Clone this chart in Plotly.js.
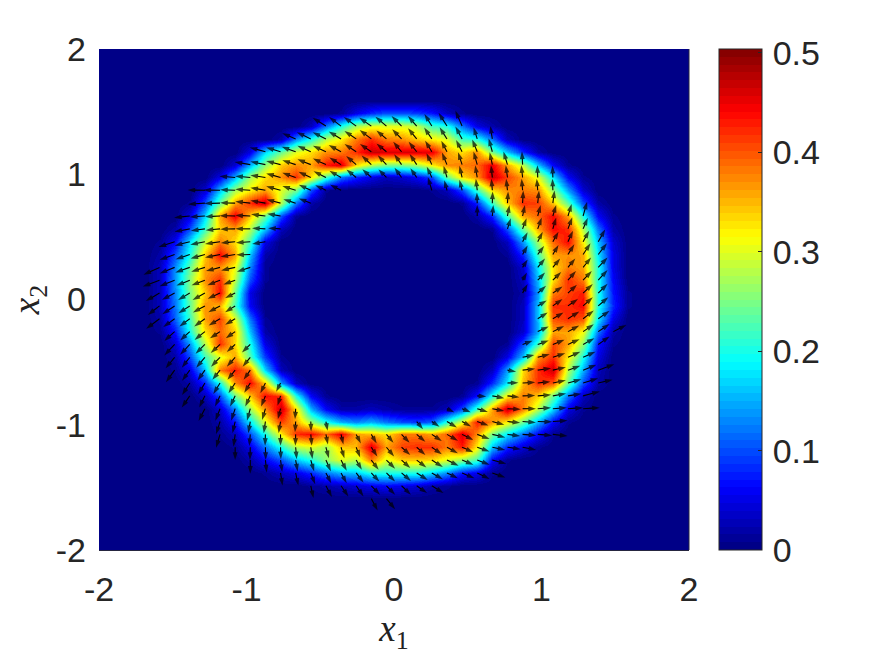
<!DOCTYPE html>
<html><head><meta charset="utf-8">
<script src="https://cdn.plot.ly/plotly-3.0.1.min.js"></script>
<style>html,body{margin:0;padding:0;background:#fff}</style></head>
<body><div id="chart" style="width:875px;height:656px"></div>
<script>
// Grid: 40 points per axis from -2 to 2 (row 0 is the top, x2 = 2).
const gridCount = 40;
const xTickVals = [-2,-1,0,1,2];
const yTickVals = [-2,-1,0,1,2];
const barTickVals = [0,0.1,0.2,0.3,0.4,0.5];
const barTickText = ['\u200a0','\u200a0.1','\u200a0.2','\u200a0.3','\u200a0.4','\u200a0.5'];

// Density (hundredths): row, first column, values.
const heatJ = [5,6,7,8,9,10,11,11,12,12,13,13,14,14,15,15,16,16,17,17,18,18,19,19,20,20,21,21,22,22,23,23,24,24,25,25,26,26,27,27,28,29,30,31,32,33,34];
const heatI = [16,14,12,10,9,8,7,22,6,24,6,25,5,26,4,27,4,27,4,28,4,28,4,28,4,28,4,28,4,28,5,27,5,27,5,26,6,25,7,24,8,8,8,9,10,11,14];
const heatZ = [
[1,5,8,10,10,9,7,3,1],
[3,12,20,27,30,30,30,28,22,20,12,5,2],
[2,13,20,28,32,38,42,38,37,34,32,30,22,20,12,3],
[5,17,24,30,33,37,38,42,47,46,46,46,45,36,33,37,25,16,8,2],
[4,15,26,34,37,36,43,46,33,28,25,25,27,32,37,38,39,45,36,28,16,6,1],
[5,15,27,33,37,42,33,22,12,8,5,3,4,6,10,24,33,37,47,41,36,30,18,6,1],
[4,16,27,32,36,30,25,10,1],[1,3,10,22,33,37,38,37,26,14,4],
[1,10,24,36,42,47,28,12,2],[1,8,22,34,42,41,34,23,10,2],
[5,17,36,45,34,24,10,1],[2,8,22,36,39,44,36,20,6,1],
[2,10,22,34,36,28,16,3],[1,10,24,36,44,42,28,12,2],
[1,6,18,29,38,33,22,5,0],[3,14,27,39,44,32,16,4],
[2,10,20,34,44,36,16,2],[1,8,22,36,37,36,18,5],
[3,13,24,36,37,31,13,1],[4,18,33,38,36,20,5],
[3,14,26,37,42,28,10,1],[3,16,33,42,38,20,6],
[3,13,25,34,44,24,5,0],[2,14,38,41,43,20,7,1],
[3,12,24,37,35,22,6,0],[3,16,42,42,44,20,8,1],
[2,11,22,36,41,30,12,1],[3,16,40,42,40,18,5],
[1,7,20,33,39,34,16,2],[4,15,36,36,31,12,2],
[4,14,28,42,33,20,5,0],[1,10,22,41,36,26,7,1],
[2,10,22,30,36,23,9,1],[5,16,37,42,32,20,5],
[1,5,16,38,43,38,17,3,0],[3,14,33,42,47,28,15,3],
[2,8,20,37,44,34,14,3,0],[1,8,18,35,42,40,24,10,2],
[3,10,24,34,44,42,20,6,1],[1,7,20,32,38,34,24,12,3],
[4,13,27,37,47,33,15,6,2,2,3,2,1,1,1,3,10,22,36,47,38,28,17,5,1],
[2,7,18,30,41,36,27,20,15,13,15,12,10,9,11,21,30,43,37,32,24,15,6,1],
[1,3,10,20,32,42,44,39,45,36,35,33,38,38,36,39,46,37,25,18,12,6,1],
[1,5,12,20,28,30,27,34,35,46,36,41,42,42,38,43,32,16,8,4,1],
[2,6,10,16,20,26,30,28,38,30,34,34,33,30,26,22,6,1],
[1,3,5,8,12,15,16,20,20,20,20,17,13,7,5,1],
[1,2,3,4,5,6,5,4,2,1]
];

// Vector field: row, first column, components as read (v positive = downward).
const arrowJ = [6,7,8,9,10,11,11,12,12,13,13,14,14,15,15,16,16,17,17,18,18,19,19,20,20,21,21,22,22,23,23,24,24,25,25,26,26,27,27,28,28,29,29,30,31,32,33,34,35];
const arrowI = [15,13,11,10,9,7,22,7,25,6,25,6,27,5,28,5,28,4,28,4,28,4,28,4,29,4,29,5,29,5,28,5,28,5,27,6,27,6,25,7,23,8,21,8,9,10,12,14,18];
const arrowU = [
[-40,-36,-37,-36,-33,-30,-26,-22,-25,-20],
[-40,-42,-40,-37,-35,-35,-30,-28,-26,-23,-22,-20,-11,-6],
[-47,-43,-42,-40,-39,-37,-35,-34,-30,-25,-24,-20,-17,-18,-15,-11],
[-47,-45,-43,-40,-40,-39,-35,-30,-29,-26,-22,-21,-16,-15,-12,-11,-8,-12,-2],
[-47,-45,-45,-43,-40,-37,-37,-35,-29,-27,-24,-21,-19,-15,-10,-8,-6,-4,-5,-4,-1,-1],
[-52,-50,-45,-45,-45,-43,-40,-36,-32,-33],[-12,-8,-8,-4,-3,-4,-3,-3,-1],
[-50,-47,-45,-45,-45,-42,-37,-36],[-1,1,2,2,4,5],
[-47,-45,-45,-47,-45,-43,-40],[0,3,6,7,9,10,11,12],
[-46,-42,-43,-45,-45,-40,-37],[10,12,12,10,13,14],
[-48,-45,-44,-45,-43,-43,-40],[15,15,17,15,18,21],
[-45,-42,-43,-45,-44,-42],[15,19,17,19,22,26],
[-48,-45,-43,-41,-42,-42,-40],[15,22,22,22,24,28],
[-50,-45,-40,-40,-38,-35],[13,22,25,24,26,28],
[-41,-38,-35,-37,-37,-30],[15,25,29,27,29,28],
[-35,-37,-34,-36,-35,-30],[27,29,30,29,30],
[-40,-34,-31,-32,-34,-30],[30,32,34,32,34],
[-31,-29,-31,-30,-28],[33,34,34,32,34,39],
[-31,-29,-28,-28,-25,-25],[30,33,35,35,34,34],
[-27,-24,-26,-27,-25,-23],[35,36,37,37,37],
[-26,-23,-22,-23,-23,-20],[26,38,40,39,37,40,48],
[-23,-20,-20,-20,-18,-15,-13],[33,38,38,39,40,45,43],
[-24,-17,-15,-15,-15,-13,-9],[27,36,36,38,40,40,40,50],
[-19,-14,-12,-10,-10,-8,-2],[22,26,32,36,40,40,40,42,45,50],
[-12,-8,-6,-5,-6,-2,1,5],[19,23,30,27,34,36,38,40,43,44],
[-12,-5,-3,-1,0,-1,3,6,7,14,16,21,24,26,30,33,34,37,39,38,41,43,44],
[0,-1,1,1,3,5,9,10,12,18,23,26,26,30,33,34,37,39,40,41],
[0,4,5,6,10,15,17,17,22,26,26,29,33,35,34,37,42],
[6,8,13,16,17,22,24,26,28,33,33,33,37,37,39],
[8,18,22,22,26,26,28,31,35],
[19,26]
];
const arrowV = [
[-25,-27,-27,-25,-28,-30,-30,-36,-40,-46],
[-17,-20,-20,-22,-24,-27,-25,-29,-32,-34,-35,-37,-35,-39],
[-13,-13,-15,-18,-18,-20,-23,-23,-25,-30,-30,-33,-33,-35,-37,-40],
[-8,-9,-11,-13,-16,-18,-21,-26,-27,-28,-31,-32,-34,-36,-37,-39,-37,-39,-39],
[-4,-4,-7,-12,-14,-17,-19,-20,-24,-25,-25,-29,-28,-32,-35,-35,-37,-37,-37,-37,-37,-35],
[-1,-1,-2,-3,-8,-12,-13,-17,-15,-17],[-40,-30,-32,-35,-35,-35,-35,-35,-35],
[3,1,-1,-5,-8,-11,-12,-14],[-32,-35,-35,-38,-38,-38],
[5,3,2,-1,-2,-5,-7],[-33,-33,-33,-33,-33,-33,-36,-43],
[9,6,4,1,0,-2,-2],[-32,-32,-34,-34,-35,-33],
[16,12,9,7,4,3,7],[-28,-30,-30,-33,-33,-37],
[16,14,12,9,7,1],[-27,-26,-29,-31,-34,-34],
[22,18,15,13,11,9,13],[-24,-27,-27,-27,-30,-30],
[19,18,16,15,15,13],[-23,-23,-25,-28,-28,-31],
[24,20,21,21,17,15],[-27,-22,-20,-25,-27,-28],
[27,25,22,20,19,19],[-16,-21,-21,-26,-26],
[30,25,23,23,20,18],[-19,-19,-22,-25,-24],
[28,27,25,20,20],[-15,-17,-18,-22,-23,-20],
[33,31,28,26,23,24],[-11,-12,-14,-16,-19,-24],
[33,31,31,28,28,28],[-7,-9,-12,-17,-17],
[36,32,31,29,29,29],[5,-4,-6,-9,-13,-16,-18],
[36,34,33,31,29,31,26],[-1,-2,-4,-8,-11,-14,-10],
[35,35,32,32,32,32,30],[2,7,4,-1,-3,-7,-6,-13],
[37,36,36,36,34,32,32],[11,11,10,7,2,0,-3,-3,-3,-3],
[38,35,35,35,35,32,30,28],[23,16,18,15,12,10,4,3,1,-3],
[40,37,35,34,34,34,34,30,30,27,27,25,25,22,20,19,17,14,9,5,3,3,5],
[38,38,38,36,36,35,33,33,31,28,28,23,23,21,18,15,13,8,6,8],
[41,37,36,34,34,34,32,29,29,26,24,22,21,17,14,14,11],
[38,38,34,31,31,29,26,26,24,21,19,16,16,18,14],
[37,34,32,32,27,27,27,22,22],
[36,32]
];

const quiverScaleX = 1/442, quiverScaleY = 1/376;

const step = 4/(gridCount-1);
const gridX = Array.from({length:gridCount},(_,i)=>-2+i*step);
const gridY = Array.from({length:gridCount},(_,j)=>2-j*step);

const z = gridY.map(()=>gridX.map(()=>0));
heatJ.forEach((j,s)=>heatZ[s].forEach((v,k)=>{z[j][heatI[s]+k]=v/100;}));

const ax=[],ay=[],sizes=[];
arrowJ.forEach((j,s)=>arrowU[s].forEach((u,k)=>{
  const i=arrowI[s]+k, x=gridX[i], y=gridY[j];
  ax.push(x, x+u*quiverScaleX, null);
  ay.push(y, y-arrowV[s][k]*quiverScaleY, null);
  sizes.push(0,8,0);
}));

// MATLAB jet(64)
function jet(t){const f=a=>Math.round(255*Math.max(0,Math.min(1,a)));
  return `rgb(${f(1.5-Math.abs(4*t-3))},${f(1.5-Math.abs(4*t-2))},${f(1.5-Math.abs(4*t-1))})`;}
const scale=[];
for(let k=0;k<64;k++){const c=jet((k+0.5)/64);scale.push([k/64,c],[(k+1)/64,c]);}

const ink='#262626';
const tickFont={family:'"Liberation Sans",Arial,sans-serif',size:34,color:ink};
const mathFont={family:'"Liberation Serif",serif',size:37,color:'#222'};

Plotly.newPlot('chart',[
{type:'heatmap',x:gridX,y:gridY,z:z,zmin:0,zmax:0.504,zsmooth:'best',colorscale:scale,hoverinfo:'skip',
 colorbar:{x:(719-99)/589.7,xanchor:'left',xpad:0,ypad:0,y:0,yanchor:'bottom',len:1,lenmode:'fraction',
  thickness:43,thicknessmode:'pixels',outlinecolor:ink,outlinewidth:1,ticks:'inside',ticklen:4,tickcolor:ink,tickwidth:1,
  tickmode:'array',tickvals:barTickVals,ticktext:barTickText,tickfont:tickFont}},
{type:'scatter',mode:'lines+markers',x:ax,y:ay,hoverinfo:'skip',showlegend:false,connectgaps:false,
 line:{color:'#000',width:1.1},
 marker:{symbol:'arrow',angleref:'previous',size:sizes,color:'#000',line:{width:0}}}
],{
 width:875,height:656,paper_bgcolor:'#fff',plot_bgcolor:'rgb(0,0,143)',showlegend:false,
 margin:{l:99,r:186.3,t:49,b:106,pad:0},
 xaxis:{range:[-2,2],tickmode:'array',tickvals:xTickVals,ticktext:['-2','-1','0','1','2'],ticks:'',tickfont:tickFont,
  showgrid:false,zeroline:false,showline:true,linecolor:'#262640',linewidth:1,ticklabelstandoff:9,
  title:{text:'<i>x</i><sub>1</sub>',font:mathFont,standoff:4}},
 yaxis:{range:[-2,2],tickmode:'array',tickvals:yTickVals,ticktext:['-2','-1','0','1','2'],ticks:'',tickfont:tickFont,
  showgrid:false,zeroline:false,showline:false,ticklabelstandoff:12,
  title:{text:'<i>x</i><sub>2</sub>',font:mathFont,standoff:4}},
 shapes:[{type:'line',xref:'paper',yref:'paper',x0:1,x1:1,y0:0,y1:1,line:{color:'#262640',width:1}}]
},{displayModeBar:false,staticPlot:true});
</script></body></html>
